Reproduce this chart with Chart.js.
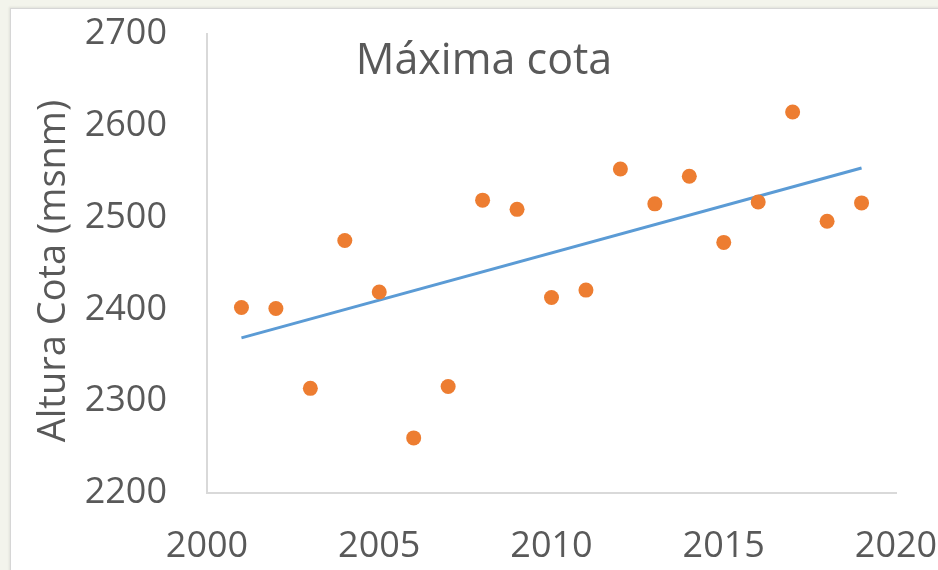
<!DOCTYPE html>
<html>
<head>
<meta charset="utf-8">
<script src="https://cdn.jsdelivr.net/npm/chart.js@4.4.1/dist/chart.umd.min.js"></script>
<style>
  html, body { margin:0; padding:0; width:938px; height:570px; overflow:hidden; background:#f3f4ec; }
  #frame { position:absolute; left:10px; top:8px; width:960px; height:600px; background:#fff;
           border-left:1px solid #d6d6d6; border-top:1px solid #d6d6d6; box-shadow:-1px -1px 2px rgba(0,0,0,.08); }
  #wrap { position:absolute; left:0; top:0; width:960px; height:561px; }
</style>
</head>
<body>
<div id="frame"><div id="wrap"><canvas id="chart"></canvas></div></div>
<script>
// Máxima cota
const years = [2001, 2002, 2003, 2004, 2005, 2006, 2007, 2008, 2009, 2010,
               2011, 2012, 2013, 2014, 2015, 2016, 2017, 2018, 2019];
const cota  = [2402, 2401, 2314, 2475, 2419, 2260, 2316, 2519, 2509, 2413,
               2421, 2553, 2515, 2545, 2473, 2517, 2615, 2496, 2516];
const trendYears = [2001, 2019];
const trendVals  = [2369, 2554];
const titleText = 'Máxima cota';
const yTitle = 'Altura Cota (msnm)';

const txt = '#595959';
const font = 'Open Sans';

// titles drawn by hand: Excel puts them over the plot area
const titlePlugin = {
    id: 'excelTitles',
    afterDraw(chart) {
        const c = chart.ctx;
        c.save();
        c.fillStyle = txt;
        c.textAlign = 'center';
        c.textBaseline = 'middle';
        c.font = '43px "' + font + '"';
        c.fillText(titleText, 473, 53);
        c.translate(43, 262);
        c.rotate(-Math.PI / 2);
        c.font = '38px "' + font + '"';
        c.fillText(yTitle, 0, 0);
        c.restore();
    }
};

new Chart(document.getElementById('chart'), {
    type: 'scatter',
    data: {
        datasets: [
            {
                label: 'Tendencia',
                type: 'line',
                data: trendYears.map((x, i) => ({x, y: trendVals[i]})),
                borderColor: '#5B9BD5',
                borderWidth: 3,
                pointRadius: 0,
                fill: false,
                order: 2
            },
            {
                label: 'Cota',
                data: years.map((x, i) => ({x, y: cota[i]})),
                backgroundColor: '#ED7D31',
                borderColor: '#ED7D31',
                borderWidth: 0,
                pointRadius: 7.5,
                order: 1
            }
        ]
    },
    options: {
        responsive: true,
        maintainAspectRatio: false,
        animation: false,
        layout: { padding: { top: 25, right: 75, left: 0, bottom: 0 } },
        plugins: { legend: { display: false }, tooltip: { enabled: false } },
        scales: {
            x: {
                type: 'linear', min: 2000, max: 2020,
                grid: { display: false, drawTicks: false },
                border: { display: true, color: '#d9d9d9', width: 2 },
                ticks: { stepSize: 5, padding: 32, color: txt, font: { family: font, size: 36 },
                         callback: v => String(v) },
                afterFit(s) { s.height = 77; s.paddingLeft = 0; s.paddingRight = 0; }
            },
            y: {
                min: 2200, max: 2700,
                grid: { display: false, drawTicks: false },
                border: { display: true, color: '#d9d9d9', width: 2 },
                ticks: { stepSize: 100, padding: 40, color: txt, font: { family: font, size: 36 },
                         callback: v => String(v) },
                afterFit(s) { s.width = 196; s.paddingTop = 0; s.paddingBottom = 0; }
            }
        }
    },
    plugins: [titlePlugin]
});
</script>
</body>
</html>
